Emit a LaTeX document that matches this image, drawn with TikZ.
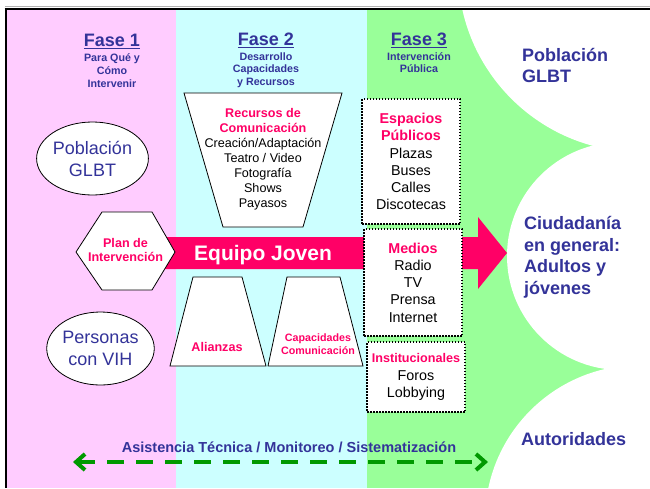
\documentclass[tikz,border=0pt]{standalone}
\usepackage{fontspec}
\setmainfont{Liberation Sans}
\usetikzlibrary{positioning,calc,shapes.geometric,arrows.meta}

\definecolor{fasecol}{HTML}{333399}
\definecolor{pinkcol}{HTML}{FF0066}
\definecolor{rosebg}{HTML}{FFCCFF}
\definecolor{cyanbg}{HTML}{CCFFFF}
\definecolor{greenbg}{HTML}{99FF99}
\definecolor{darkgreen}{HTML}{009900}

\newcommand{\pk}[1]{\textcolor{pinkcol}{\bfseries #1}}

\tikzset{
  fasetitle/.style={inner sep=0pt, text=fasecol, font=\fontsize{18}{20}\selectfont\bfseries},
  fasesub/.style={inner sep=0pt, align=center, text=fasecol, font=\fontsize{10.7}{12.7}\selectfont\bfseries},
  faseline/.style={fasecol, line width=1.5pt},
  bluelabel/.style={anchor=west, inner sep=0pt, align=left, text=fasecol, font=\fontsize{18}{21.5}\selectfont\bfseries},
  popellipse/.style={ellipse, draw, fill=white, line width=0.8pt, minimum width=105pt, minimum height=73pt, inner sep=0pt, align=center, text=fasecol, font=\fontsize{18}{22}\selectfont},
  whiteshape/.style={draw, fill=white, line width=0.8pt},
  pinklabel/.style={inner sep=0pt, align=center, text=pinkcol, font=\fontsize{12.6}{14.5}\selectfont\bfseries},
  listtext/.style={inner sep=0pt, align=center, font=\fontsize{12.6}{15}\selectfont},
  dotbox/.style={draw, fill=white, line width=1.5pt, dash pattern=on 1.5pt off 1.5pt, minimum width=98pt, inner sep=0pt, align=center, font=\fontsize{14.3}{17.2}\selectfont},
  barb/.tip={Straight Barb[length=9pt,width=16pt]},
}

\begin{document}
\begin{tikzpicture}[x=1pt, y=-1pt]
  \useasboundingbox (0,0) rectangle (650,488);

  % Columns of the three phases
  \fill[rosebg] (7,10) rectangle (176,488);
  \fill[cyanbg] (176,10) rectangle (367,488);
  \fill[greenbg] (367,10) rectangle (650,488);
  \begin{scope}
    \clip (367,10) rectangle (650,488);
    \fill[white] (640,-30) circle (182pt);
    \fill[white] (621,256) circle (114pt);
    \fill[white] (640,520) circle (155pt);
  \end{scope}

  % Frame
  \draw[gray!60, line width=1pt] (5,6.8) -- (650,6.8);
  \draw[line width=2.3pt] (4.7,9.2) -- (650,9.2);
  \draw[line width=2.3pt] (5.9,8) -- (5.9,488);

  % Phase headers
  \node[fasetitle] (f1) at (112,40) {Fase 1};
  \node[fasetitle] (f2) at (266,39) {Fase 2};
  \node[fasetitle] (f3) at (419,39) {Fase 3};
  \foreach \f in {f1,f2,f3}
    \draw[faseline] ([yshift=-2.5pt]\f.base west) -- ([yshift=-2.5pt]\f.base east);
  \node[fasesub] (s1) at (112,70.5) {Para Qué y\\Cómo\\Intervenir};
  \node[fasesub] (s2) at (266,70) {Desarrollo\\Capacidades\\y Recursos};
  \node[fasesub] (s3) at (419,62.5) {Intervención\\Pública};

  % Big arrow
  \fill[pinkcol] (165,237) -- (478,237) -- (478,217) -- (507,253)
    -- (478,289) -- (478,269) -- (165,269) -- cycle;
  \node[inner sep=0pt, text=white, font=\fontsize{21}{23}\selectfont\bfseries] (equipo) at (263,255) {Equipo Joven};

  % Phase 1
  \node[popellipse] (glbt) at (92.5,158.5) {Población\\GLBT};
  \node[popellipse] (vih) at (100.5,348.5) {Personas\\con VIH};
  \draw[whiteshape] (76,252) -- (102,212) -- (152,212) -- (175,252) -- (152,290) -- (102,290) -- cycle;
  \node[pinklabel] (plan) at (125.5,250) {Plan de\\Intervención};

  % Phase 2
  \draw[whiteshape] (184,93) -- (342,93) -- (303,227) -- (223,227) -- cycle;
  \node[listtext] (recursos) at (263,159) {\pk{Recursos de}\\\pk{Comunicación}\\Creación/Adaptación\\Teatro / Video\\Fotografía\\Shows\\Payasos};
  \draw[whiteshape] (193,277) -- (242,277) -- (266,366) -- (170,366) -- cycle;
  \draw[whiteshape] (287,277) -- (340,277) -- (363,366) -- (268,366) -- cycle;
  \node[pinklabel] (alianzas) at (217,347) {Alianzas};
  \node[pinklabel, font=\fontsize{10.7}{13}\selectfont\bfseries] (capac) at (318,344.5) {Capacidades\\Comunicación};

  % Phase 3
  \node[dotbox, minimum height=125pt] (espacios) at (411,161.5) {\pk{Espacios}\\\pk{Públicos}\\Plazas\\Buses\\Calles\\Discotecas};
  \node[dotbox, minimum height=107pt] (medios) at (413,282.5) {\pk{Medios}\\Radio\\TV\\Prensa\\Internet};
  \node[dotbox, minimum height=70pt] (instit) at (416,377) {{\fontsize{12.6}{15}\selectfont\pk{Institucionales}}\\Foros\\Lobbying};

  % Audiences
  \node[bluelabel] (pobl) at (522,65.5) {Población\\GLBT};
  \node[bluelabel] (ciud) at (524,257.5) {Ciudadanía\\en general:\\Adultos y\\jóvenes};
  \node[bluelabel] (autor) at (521,439) {Autoridades};

  % Support line
  \node[inner sep=0pt, text=fasecol, font=\fontsize{14.5}{16}\selectfont\bfseries] (asist) at (289,447) {Asistencia Técnica / Monitoreo / Sistematización};
  \coordinate (asl) at (73,462);
  \coordinate (asr) at (488,462);
  \draw[darkgreen, line width=4pt, dash pattern=on 17pt off 12pt, barb-barb] (asl) -- (asr);
\end{tikzpicture}
\end{document}
